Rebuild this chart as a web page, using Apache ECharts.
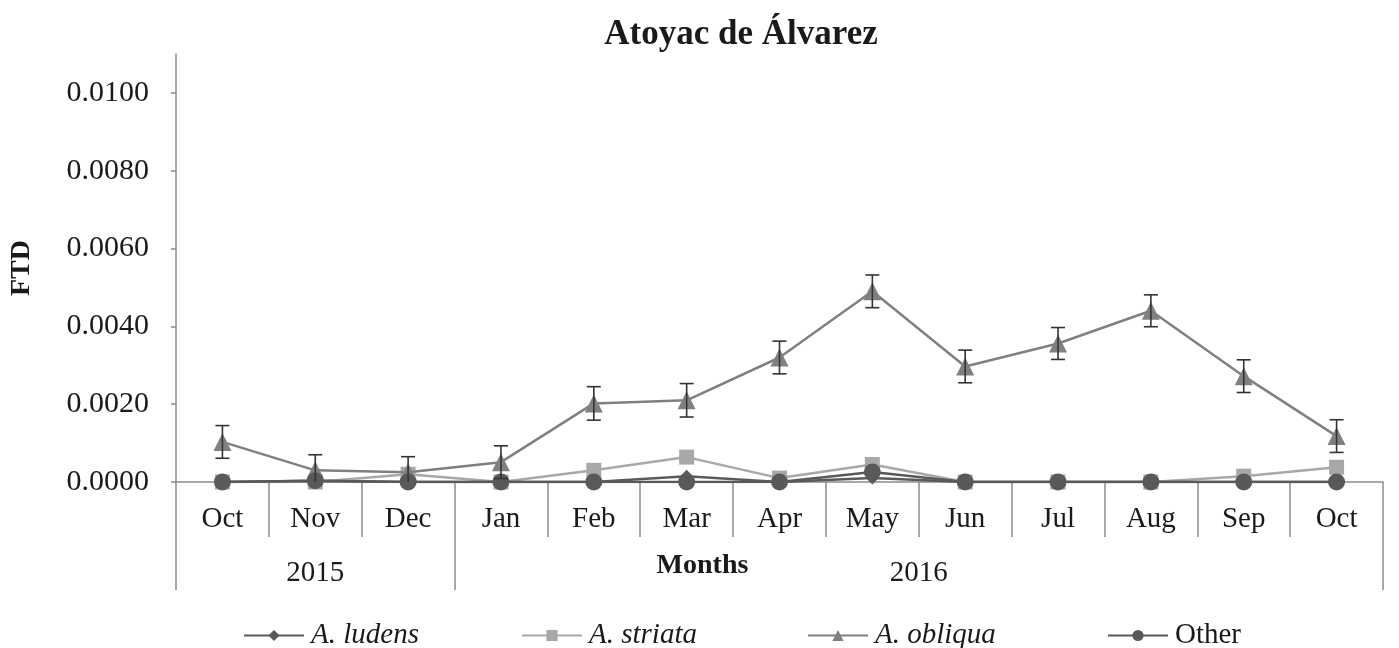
<!DOCTYPE html>
<html>
<head>
<meta charset="utf-8">
<script src="https://cdn.jsdelivr.net/npm/echarts@6/dist/echarts.min.js"></script>
<style>
  html, body { margin: 0; padding: 0; background: #fff; }
  #chart { width: 1399px; height: 648px; }
</style>
</head>
<body>
<div id="chart"></div>
<script>
// 数据：每月 FTD（读自参考图）
const months = ['Oct', 'Nov', 'Dec', 'Jan', 'Feb', 'Mar', 'Apr', 'May', 'Jun', 'Jul', 'Aug', 'Sep', 'Oct']
const yearLabels = ['2015', '2016']
const yearLabelPos = [1.5, 8]          // 年份标签在第二 x 轴（0..13）上的中心
const yearBreaks = [0, 3, 13]          // 年份分隔线
const yTicks = [0, 0.002, 0.004, 0.006, 0.008, 0.010]

const seriesNames = ['A. ludens', 'A. striata', 'A. obliqua', 'Other']
const ludens = [0, 0.00003, 0, 0, 0, 0.00015, 0, 0.0001, 0, 0, 0, 0, 0]
const striata = [0, 0, 0.0002, 0, 0.0003, 0.00064, 0.0001, 0.00045, 0, 0, 0, 0.00015, 0.00038]
const obliqua = [0.00103, 0.0003, 0.00025, 0.00051, 0.00202, 0.0021, 0.0032, 0.0049, 0.00297, 0.00356, 0.0044, 0.00272, 0.00118]
const obliquaErr = [0.00042, 0.0004, 0.0004, 0.00042, 0.00043, 0.00043, 0.00042, 0.00042, 0.00042, 0.00041, 0.00041, 0.00042, 0.00042]
const other = [0, 0.00003, 0, 0, 0, 0, 0, 0.00026, 0, 0, 0, 0, 0]

const FONT = '"Liberation Serif", "Times New Roman", serif'
const AXIS_GRAY = '#8c8c8c'
const TEXT = '#1a1a1a'

const chart = echarts.init(document.getElementById('chart'))

function lineSeries(name, data, symbol, size, color, z) {
  return {
    name, type: 'line', data, symbol, symbolSize: size, z,
    xAxisIndex: 0,
    lineStyle: { color, width: 2.5 },
    itemStyle: { color },
    emphasis: { disabled: true }
  }
}

// Excel 风格图例：每项单独定位
const legendLefts = [238, 516, 802, 1102]
const legends = seriesNames.map((n, i) => ({
  left: legendLefts[i], top: 616,
  itemWidth: 60, itemHeight: 14, data: [n],
  textStyle: {
    fontFamily: FONT, fontSize: 29, color: TEXT, padding: [0, 0, 0, 2],
    rich: { i: { fontFamily: FONT, fontSize: 29, fontStyle: 'italic', color: TEXT } }
  },
  formatter: t => t === 'Other' ? t : '{i|' + t + '}'
}))

chart.setOption({
  animation: false,
  textStyle: { fontFamily: FONT },
  title: {
    text: 'Atoyac de Álvarez',
    left: 736, top: 12, textAlign: 'center',
    textStyle: { fontFamily: FONT, fontSize: 35, fontWeight: 'bold', color: TEXT }
  },
  legend: legends,
  grid: { left: 175, right: 16, top: 54, bottom: 166 },
  xAxis: [
    {
      type: 'category', data: months, boundaryGap: true,
      axisLine: { lineStyle: { color: AXIS_GRAY, width: 1.5 } },
      axisTick: { show: true, length: 55, lineStyle: { color: AXIS_GRAY, width: 1.5 } },
      axisLabel: { fontFamily: FONT, fontSize: 29, color: TEXT, margin: 23 },
      name: 'Months', nameLocation: 'middle', nameGap: 70,
      nameTextStyle: { fontFamily: FONT, fontSize: 28, fontWeight: 'bold', color: TEXT, padding: [0, 154, 0, 0] }
    },
    {
      type: 'value', min: 0, max: 13, position: 'bottom',
      axisLine: { show: false },
      splitLine: { show: false },
      axisTick: { show: true, length: 108, customValues: yearBreaks, lineStyle: { color: AXIS_GRAY, width: 1.5 } },
      axisLabel: {
        customValues: yearLabelPos, fontFamily: FONT, fontSize: 29, color: TEXT, margin: 77,
        formatter: v => yearLabels[yearLabelPos.indexOf(v)]
      }
    }
  ],
  yAxis: {
    type: 'value', min: 0, max: 0.011,
    name: 'FTD', nameLocation: 'middle', nameGap: 140, nameRotate: 90,
    nameTextStyle: { fontFamily: FONT, fontSize: 28, fontWeight: 'bold', color: TEXT },
    axisLine: { show: true, lineStyle: { color: AXIS_GRAY, width: 1.5 } },
    axisTick: { show: true, length: 5, customValues: yTicks, lineStyle: { color: AXIS_GRAY, width: 1.5 } },
    axisLabel: {
      customValues: yTicks, fontFamily: FONT, fontSize: 30, color: TEXT, margin: 27,
      formatter: v => v.toFixed(4)
    },
    splitLine: { show: false }
  },
  series: [
    lineSeries('A. ludens', ludens, 'diamond', 13, '#5a5a5a', 3),
    lineSeries('A. striata', striata, 'rect', 15, '#a8a8a8', 2),
    lineSeries('A. obliqua', obliqua, 'triangle', 18, '#808080', 4),
    lineSeries('Other', other, 'circle', 17, '#595959', 5),
    {
      // obliqua 误差线
      type: 'custom', name: 'err', xAxisIndex: 0, z: 6, clip: true,
      data: obliqua.map((v, i) => [i, v, obliquaErr[i]]),
      renderItem: (params, api) => {
        const i = api.value(0), v = api.value(1), e = api.value(2)
        const top = api.coord([i, v + e])
        const bot = api.coord([i, v - e])
        const w = 7
        const style = { stroke: '#333', lineWidth: 1.6 }
        return {
          type: 'group',
          children: [
            { type: 'line', shape: { x1: top[0], y1: top[1], x2: bot[0], y2: bot[1] }, style },
            { type: 'line', shape: { x1: top[0] - w, y1: top[1], x2: top[0] + w, y2: top[1] }, style },
            { type: 'line', shape: { x1: bot[0] - w, y1: bot[1], x2: bot[0] + w, y2: bot[1] }, style }
          ]
        }
      }
    }
  ]
})
</script>
</body>
</html>
